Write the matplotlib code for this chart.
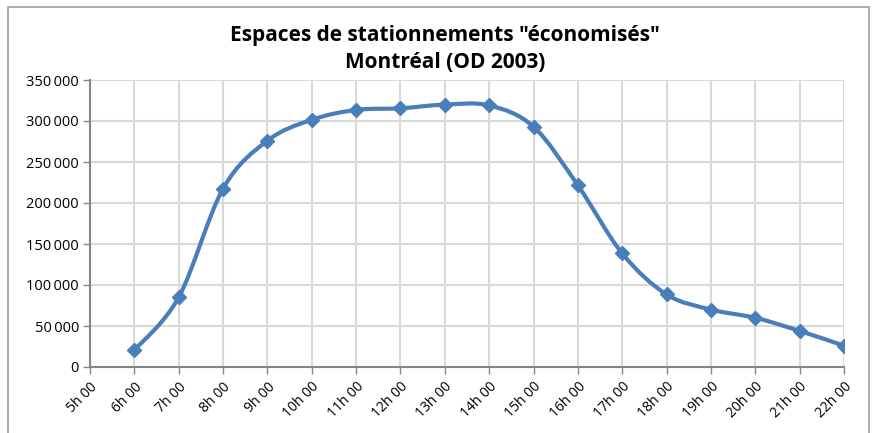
import matplotlib
matplotlib.use("Agg")
import matplotlib.pyplot as plt
import numpy as np
from matplotlib.path import Path
from matplotlib.patches import PathPatch, Rectangle
from matplotlib.ticker import FuncFormatter

# Heures (catégories) et espaces "économisés"
heures = ["5h 00", "6h 00", "7h 00", "8h 00", "9h 00", "10h 00", "11h 00", "12h 00", "13h 00",
          "14h 00", "15h 00", "16h 00", "17h 00", "18h 00", "19h 00", "20h 00", "21h 00", "22h 00"]
heures_data = ["6h 00", "7h 00", "8h 00", "9h 00", "10h 00", "11h 00", "12h 00", "13h 00",
               "14h 00", "15h 00", "16h 00", "17h 00", "18h 00", "19h 00", "20h 00", "21h 00", "22h 00"]
espaces = [20500, 85000, 217500, 276000, 301500, 313500, 315500, 320000,
           319000, 293000, 221500, 138500, 88500, 70000, 60000, 44000, 26000]

BLUE = "#4a7ebb"
GRID = "#d9d9d9"
AXIS = "#868686"


def smooth_path(x, y, t=1 / 6):
    """Courbe lissée façon Excel (Bézier cubique, tangentes Catmull-Rom)."""
    verts = [(x[0], y[0])]
    codes = [Path.MOVETO]
    n = len(x)
    for i in range(n - 1):
        x0, y0 = (x[i - 1], y[i - 1]) if i > 0 else (x[i], y[i])
        x3, y3 = (x[i + 2], y[i + 2]) if i + 2 < n else (x[i + 1], y[i + 1])
        c1 = (x[i] + (x[i + 1] - x0) * t, y[i] + (y[i + 1] - y0) * t)
        c2 = (x[i + 1] - (x3 - x[i]) * t, y[i + 1] - (y3 - y[i]) * t)
        verts += [c1, c2, (x[i + 1], y[i + 1])]
        codes += [Path.CURVE4] * 3
    return Path(verts, codes)


plt.rcParams["font.family"] = ["Open Sans", "DejaVu Sans"]

fig = plt.figure(figsize=(8.72, 4.33), dpi=100)
ax = fig.add_axes([90 / 872, 1 - 367 / 433, 754 / 872, 287 / 433])

# cadre du graphique
fig.patches.append(Rectangle((8 / 872, -0.05), 861 / 872, 1.05 - 7 / 433, transform=fig.transFigure,
                             fill=False, edgecolor="#a0a0a0", linewidth=1.2))

xpos = np.array([heures.index(h) for h in heures_data], dtype=float)
yval = np.array(espaces, dtype=float)
ax.add_patch(PathPatch(smooth_path(xpos, yval), facecolor="none", edgecolor=BLUE,
                       linewidth=3, capstyle="round", joinstyle="round", zorder=3))
ax.plot(xpos, yval, linestyle="none", marker="D", markersize=7.5, color=BLUE, zorder=4)

ax.set_xlim(0, len(heures) - 1)
ax.set_ylim(0, 350000)
ax.set_xticks(range(len(heures)))
ax.set_xticklabels(heures, rotation=45, ha="right", va="top", rotation_mode="anchor", fontsize=10)
ax.set_yticks(np.arange(0, 350001, 50000))
ax.yaxis.set_major_formatter(FuncFormatter(lambda v, p: "{:,.0f}".format(v).replace(",", "\u2009")
                                           if v >= 1000 else "0"))
ax.tick_params(axis="y", labelsize=10.5, length=5, color=AXIS, width=1, pad=3)
ax.tick_params(axis="x", length=5, color=AXIS, width=1, pad=4)

ax.grid(True, color=GRID, linewidth=1.5)
ax.set_axisbelow(True)
for side in ["top", "right"]:
    ax.spines[side].set_visible(False)
for side in ["left", "bottom"]:
    ax.spines[side].set_color(AXIS)
    ax.spines[side].set_linewidth(1.5)

fig.text(0.51, 1 - 36 / 433, 'Espaces de stationnements "économisés"', ha="center", va="center",
         fontsize=15, fontweight="bold")
fig.text(0.51, 1 - 62 / 433, "Montréal (OD 2003)", ha="center", va="center",
         fontsize=15, fontweight="bold")

fig.savefig("out.png", dpi=100)
